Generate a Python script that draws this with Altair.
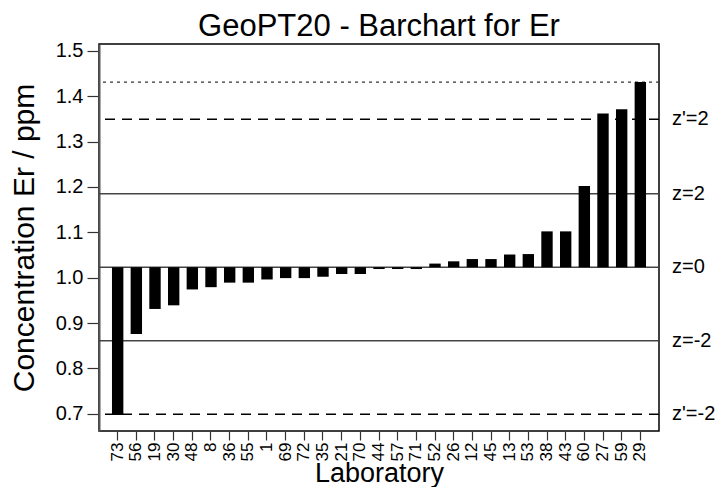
import altair as alt
import pandas as pd

labs = ["73", "56", "19", "30", "48", "8", "36", "55", "1", "69", "72", "35", "21", "70",
        "44", "57", "71", "52", "26", "12", "45", "13", "53", "38", "43", "60", "27", "59", "29"]
values = [0.697, 0.876, 0.931, 0.939, 0.974, 0.979, 0.989, 0.989, 0.996, 0.999, 0.999, 1.002,
          1.008, 1.008, 1.019, 1.019, 1.019, 1.031, 1.036, 1.041, 1.041, 1.051, 1.052, 1.102,
          1.102, 1.202, 1.362, 1.371, 1.431]
assigned = 1.023
z_vals = [1.185, 1.023, 0.861]
z_labels = ["z=2", "z=0", "z=-2"]
zp_vals = [1.349, 0.699]
zp_labels = ["z'=2", "z'=-2"]
dotted_val = [1.431]

FONT = "Liberation Sans"
W, H = 560, 387

bars = pd.DataFrame({"lab": labs, "value": values, "center": [assigned] * len(labs)})
zdf = pd.DataFrame({"y": z_vals, "label": z_labels})
zpdf = pd.DataFrame({"y": zp_vals, "label": zp_labels})
ddf = pd.DataFrame({"y": dotted_val})
ldf = pd.concat([zpdf, zdf], ignore_index=True)

yscale = alt.Scale(domain=[0.662, 1.515], nice=False, zero=False)

bar = alt.Chart(bars).mark_bar(color="black").encode(
    x=alt.X("lab:O", sort=None, title="Laboratory",
            scale=alt.Scale(paddingInner=0.39, paddingOuter=0.695),
            axis=alt.Axis(labelAngle=270, labelFontSize=17, labelFont=FONT, labelColor="black",
                          tickSize=9, tickColor="#333", tickWidth=1.2, labelPadding=2,
                          domain=False, titleFont=FONT, titleFontSize=27, titleFontWeight="normal",
                          titleColor="black", titleBaseline="alphabetic", titleY=50)),
    y=alt.Y("value:Q", scale=yscale, title="Concentration Er / ppm",
            axis=alt.Axis(values=[0.7, 0.8, 0.9, 1.0, 1.1, 1.2, 1.3, 1.4, 1.5], format=".1f",
                          labelFontSize=20, labelFont=FONT, labelColor="black", tickSize=12,
                          tickColor="#333", tickWidth=1.2, labelPadding=4, domainColor="#555",
                          domainWidth=2, grid=False, titleFont=FONT, titleFontSize=30,
                          titleFontWeight="normal", titleColor="black", titlePadding=16)),
    y2="center:Q",
)

zrules = alt.Chart(zdf).mark_rule(color="#444", strokeWidth=1.5).encode(y=alt.Y("y:Q", scale=yscale))
zprules = alt.Chart(zpdf).mark_rule(color="black", strokeWidth=1.5, strokeDash=[10, 7]).encode(
    y=alt.Y("y:Q", scale=yscale))
drule = alt.Chart(ddf).mark_rule(color="#333", strokeWidth=1.3, strokeDash=[3, 4]).encode(
    y=alt.Y("y:Q", scale=yscale))
labels = alt.Chart(ldf).mark_text(align="left", baseline="middle", fontSize=20, font=FONT,
                                  color="black").encode(
    y=alt.Y("y:Q", scale=yscale), x=alt.value(W + 13), text="label:N")

chart = alt.layer(zrules, zprules, drule, bar, labels).properties(
    width=W, height=H,
    title=alt.Title("GeoPT20 - Barchart for Er", font=FONT, fontSize=31, fontWeight="normal",
                    color="black", anchor="middle", offset=-2),
    autosize=alt.AutoSizeParams(type="none"),
    padding={"left": 91, "top": 36, "right": 57, "bottom": 56},
).configure_view(stroke="black", strokeWidth=1.5)

chart.save("out.html", embed_options={"renderer": "svg", "actions": False})
